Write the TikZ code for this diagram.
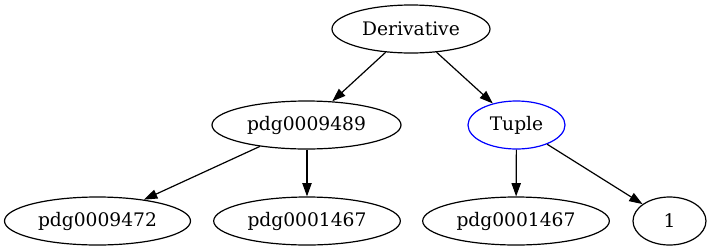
\documentclass[tikz,border=0pt]{standalone}
\usepackage{fontspec}
\setmainfont{DejaVu Serif}
\usetikzlibrary{shapes.geometric,arrows.meta}
\tikzset{
  gnode/.style={ellipse, draw=black, line width=0.9pt, inner sep=0pt,
    minimum height=36pt, font=\fontsize{14pt}{16pt}\selectfont},
  gedge/.style={draw=black, line width=0.9pt, -{Triangle[length=10pt,width=7pt]}}
}
\begin{document}
\begin{tikzpicture}[x=0.75pt,y=-0.75pt]
\useasboundingbox (0,0) rectangle (711,251);
\node[gnode, minimum width=118.5pt] (der) at (411,29) {Derivative};
\node[gnode, minimum width=141.75pt] (p89) at (306.5,125) {pdg0009489};
\node[gnode, minimum width=72.75pt, draw=blue] (tup) at (516.5,125) {Tuple};
\node[gnode, minimum width=139.5pt] (p72) at (97.5,221) {pdg0009472};
\node[gnode, minimum width=140pt] (p67a) at (307,221) {pdg0001467};
\node[gnode, minimum width=140pt] (p67b) at (516,221) {pdg0001467};
\node[gnode, minimum width=54.75pt] (one) at (669.5,221) {1};
\draw[gedge] (der) -- (p89);
\draw[gedge] (der) -- (tup);
\draw[gedge] (p89) -- (p72);
\draw[gedge] (p89.south -| p67a) -- (p67a);
\draw[gedge] (tup) -- (p67b);
\draw[gedge] (tup) -- (one);
\end{tikzpicture}
\end{document}
